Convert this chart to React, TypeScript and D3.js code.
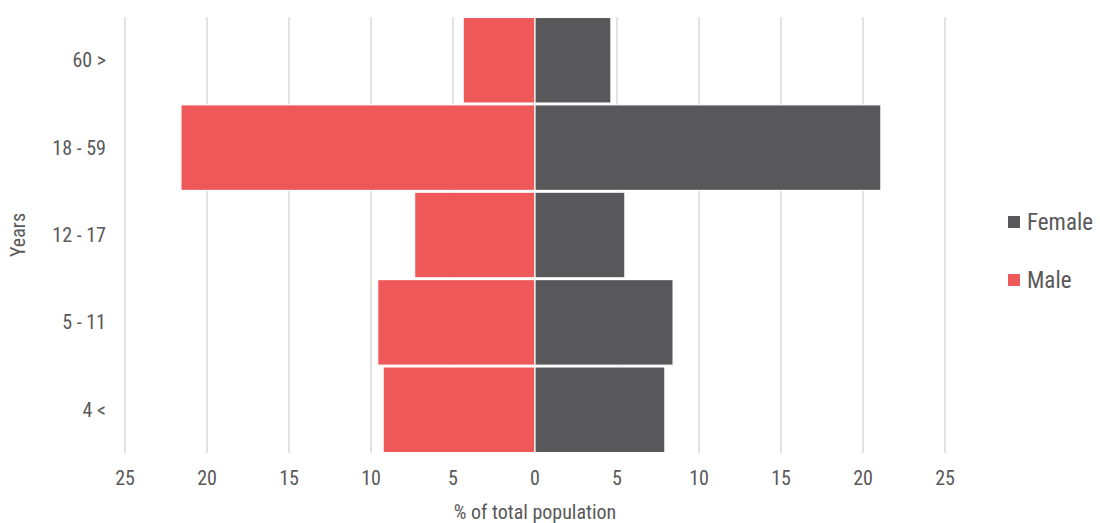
import React from "react";
import * as d3 from "d3";

const categories = ["60 >", "18 - 59", "12 - 17", "5 - 11", "4 <"];
const maleValues = [4.38, 21.59, 7.34, 9.59, 9.26];
const femaleValues = [4.63, 21.09, 5.48, 8.42, 7.92];
const tickValues = [-25, -20, -15, -10, -5, 0, 5, 10, 15, 20, 25];
const legendItems = [
  { name: "Female", color: "#58585A" },
  { name: "Male", color: "#EE5859" },
];

const W = 1100;
const H = 523;
const FONT = "'Liberation Sans Narrow', 'Arial Narrow', 'Roboto Condensed', sans-serif";
const TEXT = "#595959";

export default function App() {
  const x = d3.scaleLinear().domain([-25, 25]).range([125, 945]);
  const y = d3
    .scaleBand<string>()
    .domain(categories)
    .range([17, 453])
    .paddingInner(0.02)
    .paddingOuter(0.005);

  const bars: { key: string; x0: number; x1: number; y: number; h: number; color: string }[] = [];
  categories.forEach((c, i) => {
    bars.push({ key: "m" + i, x0: x(-maleValues[i]), x1: x(0), y: y(c)!, h: y.bandwidth(), color: legendItems[1].color });
    bars.push({ key: "f" + i, x0: x(0), x1: x(femaleValues[i]), y: y(c)!, h: y.bandwidth(), color: legendItems[0].color });
  });

  return (
    <svg width={W} height={H} style={{ position: "absolute", left: 0, top: 0, background: "#fff" }}>
      <g>
        {tickValues.map((t) => (
          <line key={"g" + t} x1={x(t)} x2={x(t)} y1={17} y2={453} stroke="#D9D9D9" strokeWidth={1.5} />
        ))}
      </g>
      <g>
        {bars.map((b) => (
          <rect key={b.key} x={b.x0} y={b.y} width={b.x1 - b.x0} height={b.h} fill={b.color} stroke="#fff" strokeWidth={1.2} />
        ))}
      </g>
      <g fontFamily={FONT} fill={TEXT}>
        {tickValues.map((t) => (
          <text key={"t" + t} x={x(t)} y={478} textAnchor="middle" dominantBaseline="central" fontSize={20}>
            {Math.abs(t)}
          </text>
        ))}
        {categories.map((c) => (
          <text key={"c" + c} x={106} y={y(c)! + y.bandwidth() / 2} textAnchor="end" dominantBaseline="central" fontSize={20}>
            {c}
          </text>
        ))}
        <text x={x(0)} y={512} textAnchor="middle" dominantBaseline="central" fontSize={20}>
          % of total population
        </text>
        <text transform={`translate(18,${y("12 - 17")! + y.bandwidth() / 2}) rotate(-90)`} textAnchor="middle" dominantBaseline="central" fontSize={20}>
          Years
        </text>
        {legendItems.map((l, i) => (
          <g key={l.name} transform={`translate(1008,${222 + i * 58})`}>
            <rect x={0} y={-6} width={12} height={12} fill={l.color} />
            <text x={19} y={0} dominantBaseline="central" fontSize={23}>
              {l.name}
            </text>
          </g>
        ))}
      </g>
    </svg>
  );
}
